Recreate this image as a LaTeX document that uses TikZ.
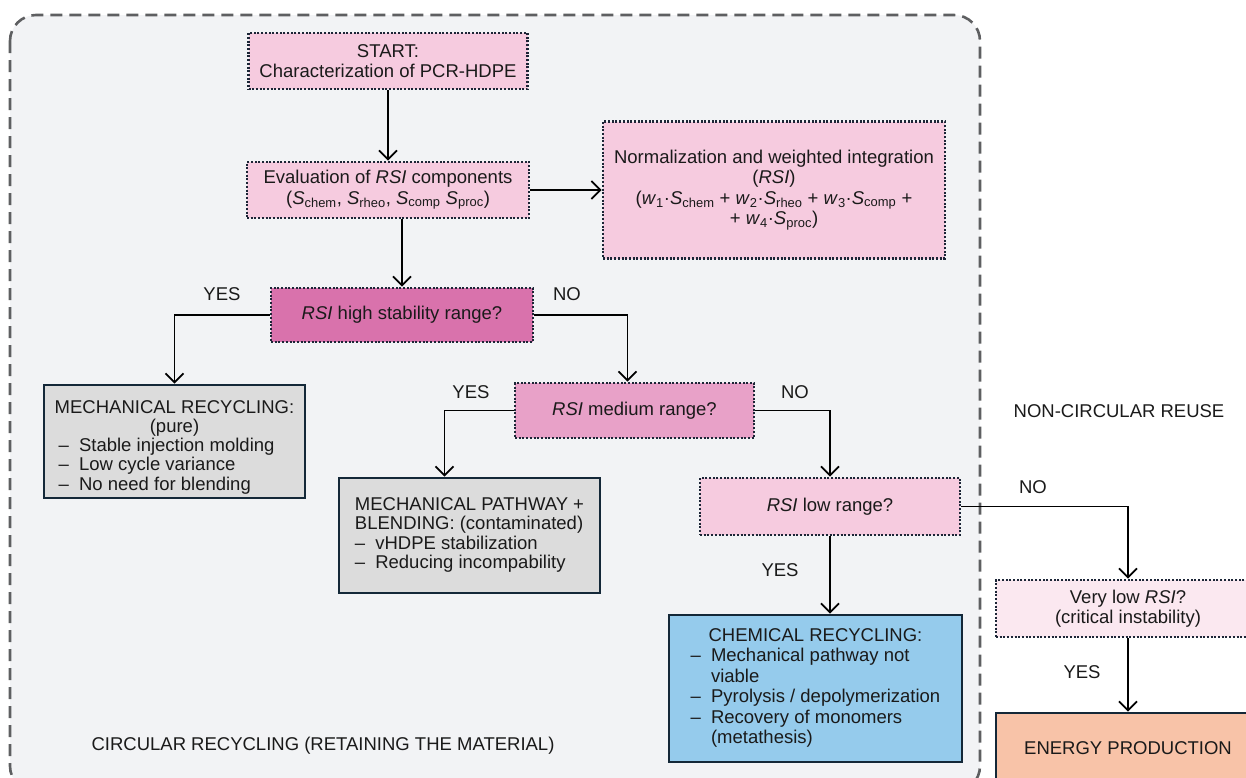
\documentclass[tikz,border=0pt]{standalone}
\usepackage{fontspec}
\setmainfont{Liberation Sans}
\usepackage{xcolor}
\usepackage{tikz}
\usetikzlibrary{arrows.meta, positioning}
\definecolor{ZoneGray}{HTML}{F2F3F5}
\definecolor{ZoneLine}{HTML}{5E5F61}
\definecolor{DotNavy}{HTML}{1C2536}
\definecolor{FrameNavy}{HTML}{142838}
\definecolor{RsiPink}{HTML}{F6CBDF}
\definecolor{HighPink}{HTML}{D972AC}
\definecolor{MidPink}{HTML}{E8A1C8}
\definecolor{PalePink}{HTML}{FBE8F0}
\definecolor{BoxGray}{HTML}{DCDCDC}
\definecolor{ChemBlue}{HTML}{95CBEC}
\definecolor{Peach}{HTML}{F8C3A8}
\definecolor{TextDark}{HTML}{1A1A1A}
\newcommand{\Ssub}[1]{\textit{S}\textsubscript{#1}}
\newcommand{\wsub}[1]{\textit{w}\textsubscript{#1}}
\newcommand{\itm}{\makebox[1.1em][l]{\textendash}}

\begin{document}
\begin{tikzpicture}[x=1pt, y=-1pt, node distance=129pt, font=\fontsize{18.5}{20.5}\selectfont, text=TextDark]
    \tikzstyle{rangebox} = [rectangle, draw=DotNavy, line width=2.6pt, dash pattern=on 2pt off 1.7pt, text centered, align=center, inner sep=0pt]
    \tikzstyle{pathbox} = [rectangle, draw=FrameNavy, line width=2.8pt, inner sep=0pt]
    \tikzstyle{answer} = [inner sep=0pt]
    \tikzstyle{arrow} = [line width=1.8pt, draw=black, -{Straight Barb[length=9pt,width=18pt]}]

    \useasboundingbox (0,0) rectangle (1246,777);
    \draw [fill=ZoneGray, draw=ZoneLine, line width=2.6pt, dash pattern=on 12pt off 7pt, rounded corners=26pt] (10,15) rectangle (980,792);

    \node (start) [rangebox, fill=RsiPink, minimum width=279pt, minimum height=56pt] at (388,61) {START:\\Characterization of PCR-HDPE};
    \node (eval) [rangebox, fill=RsiPink, minimum width=282pt, minimum height=56pt, below of=start] {Evaluation of \textit{RSI} components\\(\Ssub{chem}, \Ssub{rheo}, \Ssub{comp} \Ssub{proc})};
    \node (norm) [rangebox, fill=RsiPink, minimum width=342pt, minimum height=137pt] at (774,190) {Normalization and weighted integration\\(\textit{RSI})\\(\wsub{1}·\Ssub{chem} + \wsub{2}·\Ssub{rheo} + \wsub{3}·\Ssub{comp} +\\+ \wsub{4}·\Ssub{proc})};
    \node (high) [rangebox, fill=HighPink, minimum width=262pt, minimum height=54pt] at (402,315) {\textit{RSI} high stability range?};
    \node (mech) [pathbox, fill=BoxGray, minimum width=261pt, minimum height=113pt, font=\fontsize{18.5}{19.2}\selectfont] at (174.5,441.5) {\begin{tabular}{@{}l@{}}\multicolumn{1}{@{}c@{}}{\rule{0pt}{26pt}MECHANICAL RECYCLING:}\\ \multicolumn{1}{@{}c@{}}{(pure)}\\ \hspace*{4pt}\itm Stable injection molding\\ \hspace*{4pt}\itm Low cycle variance\\ \hspace*{4pt}\itm No need for blending\end{tabular}};
    \node (medium) [rangebox, fill=MidPink, minimum width=239pt, minimum height=55pt] at (634.5,410.5) {\textit{RSI} medium range?};
    \node (blend) [pathbox, fill=BoxGray, minimum width=261pt, minimum height=115pt, font=\fontsize{18.5}{19.5}\selectfont] at (469.5,535.5) {\begin{tabular}{@{}l@{}}MECHANICAL PATHWAY +\\ BLENDING: (contaminated)\\ \itm vHDPE stabilization\\ \itm Reducing incompability\end{tabular}};
    \node (low) [rangebox, fill=RsiPink, minimum width=260pt, minimum height=57pt] at (830,506.5) {\textit{RSI} low range?};
    \node (chem) [pathbox, fill=ChemBlue, minimum width=293pt, minimum height=147pt] at (815.5,688.5) {\begin{tabular}{@{}l@{}}\multicolumn{1}{@{}c@{}}{CHEMICAL RECYCLING:}\\ \itm Mechanical pathway not\\ \phantom{\itm}viable\\ \itm Pyrolysis / depolymerization\\ \itm Recovery of monomers\\ \phantom{\itm}(metathesis)\end{tabular}};
    \node (verylow) [rangebox, fill=PalePink, minimum width=264pt, minimum height=57pt] at (1128,608.5) {Very low \textit{RSI}?\\(critical instability)};
    \node (energy) [pathbox, fill=Peach, minimum width=264pt, minimum height=70pt] at (1128,748) {ENERGY PRODUCTION};

    % branch labels
    \node (yeshigh) [answer] at (222,294) {YES};
    \node (nohigh) [answer] at (567,294) {NO};
    \node (yesmid) [answer] at (471,392) {YES};
    \node (nomid) [answer] at (795,392) {NO};
    \node (yeslow) [answer] at (780,570) {YES};
    \node (nolow) [answer] at (1033,487) {NO};
    \node (yesvery) [answer] at (1082,672) {YES};
    \node (circ) [answer] at (323,746) {CIRCULAR RECYCLING (RETAINING THE MATERIAL)};
    \node (noncirc) [answer] at (1119,411) {NON-CIRCULAR REUSE};

    \draw [arrow] (start) -- (eval);
    \draw [arrow] (eval) -- (norm);
    \draw [arrow] (eval.south -| high.north) -- (high.north);
    \draw [arrow] (high.west) -| (mech.north);
    \draw [arrow] (high.east) -| ([xshift=-7pt]medium.north);
    \draw [arrow] (medium.west) -| ([xshift=-25pt]blend.north);
    \draw [arrow] (medium.east) -| (low.north);
    \draw [arrow] (low.south) -- (low.south |- chem.north);
    \draw [arrow] (low.east) -| (verylow.north);
    \draw [arrow] (verylow) -- (energy);

\end{tikzpicture}
\end{document}
